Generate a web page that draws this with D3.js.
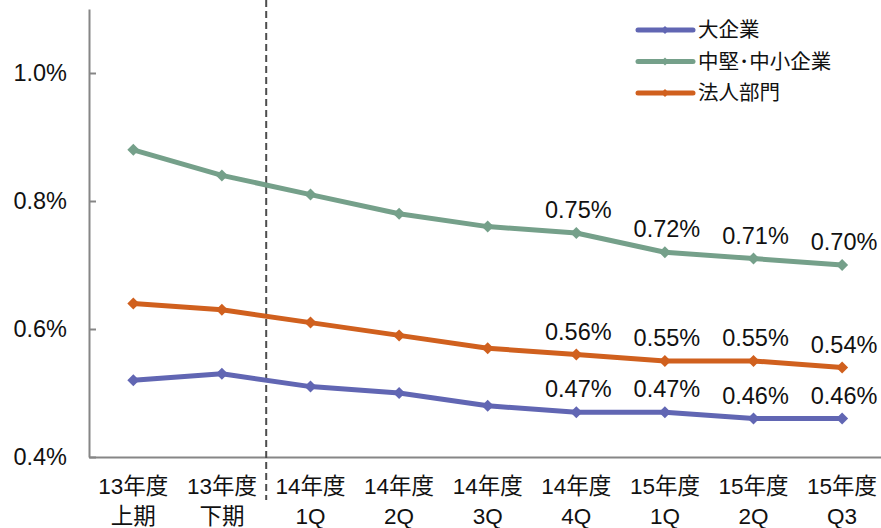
<!DOCTYPE html>
<html>
<head>
<meta charset="utf-8">
<script src="https://cdn.jsdelivr.net/npm/d3@7"></script>
<style>
  body { margin: 0; background: #fff; }
  svg text { font-family: "Liberation Sans", Arial, "Noto Sans CJK JP", sans-serif; fill: #111; }
</style>
</head>
<body>
<script>
const categories = ['13年度|上期', '13年度|下期', '14年度|1Q', '14年度|2Q', '14年度|3Q',
                    '14年度|4Q', '15年度|1Q', '15年度|2Q', '15年度|Q3'];
const seriesNames = ['大企業', '中堅･中小企業', '法人部門'];
const large = [0.52, 0.53, 0.51, 0.50, 0.48, 0.47, 0.47, 0.46, 0.46];
const smallMid = [0.88, 0.84, 0.81, 0.78, 0.76, 0.75, 0.72, 0.71, 0.70];
const corporate = [0.64, 0.63, 0.61, 0.59, 0.57, 0.56, 0.55, 0.55, 0.54];
const yTicks = [0.4, 0.6, 0.8, 1.0];
const labelFrom = 5;   // data labels shown from 14年度4Q on
const dividerAfter = 1; // dashed line after 13年度下期

const colors = ['#6166b3', '#75a08a', '#d0601e'];

function plot()
{
    const W = 881, H = 528;
    const left = 89, top = 9, bottom = 457;
    const svg = d3.select('body').append('svg')
        .attr('width', W).attr('height', H);

    const x = d3.scaleBand()
        .domain(categories)
        .range([left, left + 88.6 * categories.length]);
    const y = d3.scaleLinear()
        .domain([0.4, 1.1])
        .range([bottom, top]);

    // y axis
    const yAxis = d3.axisLeft(y)
        .tickValues(yTicks)
        .tickFormat(d => d.toFixed(1) + '%')
        .tickSizeInner(-7)
        .tickSizeOuter(0)
        .tickPadding(22);
    const gy = svg.append('g')
        .attr('transform', `translate(${left},0)`)
        .call(yAxis);
    gy.selectAll('path, line').attr('stroke', '#868686').attr('stroke-width', 2);
    gy.selectAll('text').attr('font-size', 23.5).attr('fill', '#111');

    // x axis
    const gx = svg.append('g')
        .attr('transform', `translate(0,${bottom})`)
        .call(d3.axisBottom(x).tickSize(0).tickPadding(0));
    gx.select('path').attr('stroke', '#868686').attr('stroke-width', 2);
    gx.selectAll('text').each(function(d) {
        const parts = d.split('|');
        const t = d3.select(this).text(null)
            .attr('font-size', 22.5).attr('fill', '#111').attr('dy', null).attr('y', 0);
        t.append('tspan').attr('x', 0).attr('y', 37).text(parts[0]);
        t.append('tspan').attr('x', 0).attr('y', 67).text(parts[1]);
    });

    // dashed divider
    const xd = x(categories[dividerAfter]) + x.bandwidth();
    svg.append('line')
        .attr('x1', xd).attr('x2', xd)
        .attr('y1', 0).attr('y2', 500)
        .attr('stroke', '#4d4d4d')
        .attr('stroke-width', 2)
        .attr('stroke-dasharray', '7,4');

    const cx = i => x(categories[i]) + x.bandwidth() / 2;
    const line = d3.line()
        .x((d, i) => cx(i))
        .y(d => y(d));
    const diamond = 'M0,-6L6,0L0,6L-6,0Z';

    [large, smallMid, corporate].forEach((vals, s) => {
        const g = svg.append('g');
        g.append('path')
            .attr('d', line(vals))
            .attr('fill', 'none')
            .attr('stroke', colors[s])
            .attr('stroke-width', 5)
            .attr('stroke-linejoin', 'round');
        g.selectAll('path.m')
            .data(vals).enter().append('path')
            .attr('class', 'm')
            .attr('d', diamond)
            .attr('transform', (d, i) => `translate(${cx(i)},${y(d)})`)
            .attr('fill', colors[s]);
        g.selectAll('text')
            .data(vals.map((v, i) => ({v, i})).filter(d => d.i >= labelFrom))
            .enter().append('text')
            .attr('x', d => cx(d.i) + 2)
            .attr('y', d => y(d.v) - 23)
            .attr('dy', '0.35em')
            .attr('text-anchor', 'middle')
            .attr('font-size', 23.5)
            .text(d => d.v.toFixed(2) + '%');
    });

    // legend
    const lg = svg.append('g').attr('transform', 'translate(638,30)');
    seriesNames.forEach((name, s) => {
        const r = lg.append('g').attr('transform', `translate(0,${s * 31.5})`);
        r.append('line')
            .attr('x1', 0).attr('x2', 55)
            .attr('stroke', colors[s])
            .attr('stroke-width', 5)
            .attr('stroke-linecap', 'round');
        r.append('path')
            .attr('d', 'M0,-4L4,0L0,4L-4,0Z')
            .attr('transform', 'translate(27,0)')
            .attr('fill', colors[s]);
        r.append('text')
            .attr('x', 60)
            .attr('dy', '0.35em')
            .attr('font-size', 20.5)
            .text(name);
    });
}

plot();
</script>
</body>
</html>
